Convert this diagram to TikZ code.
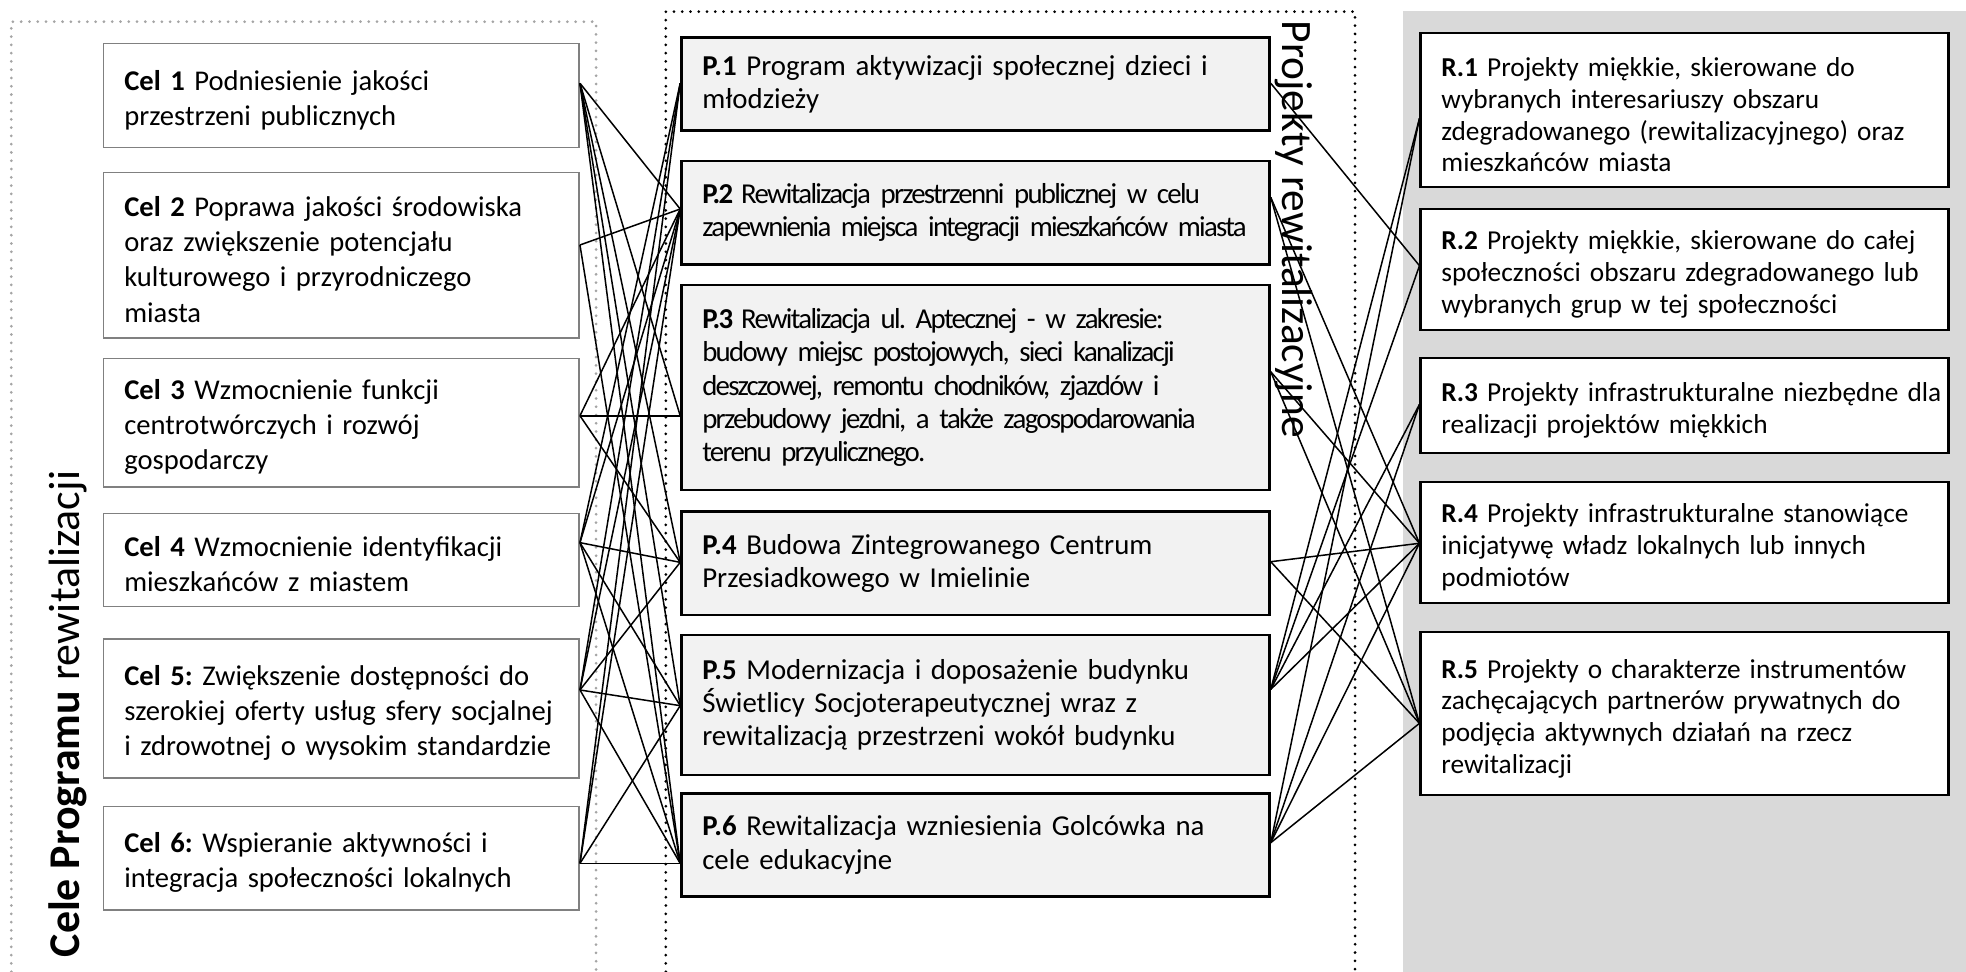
\documentclass[tikz,border=0pt]{standalone}
\usepackage{fontspec}
\setmainfont{Carlito}
\newfontfamily\condfont[LetterSpace=-6]{Carlito}
\usetikzlibrary{calc}
\definecolor{panelgray}{RGB}{217,217,217}
\definecolor{pfill}{RGB}{242,242,242}
\definecolor{celborder}{RGB}{128,128,128}
\definecolor{dotgray}{RGB}{165,165,165}
\newcommand\tln[1]{\mbox{#1}}
\newcommand\topgap{\rule{0pt}{11.5pt}}
\frenchspacing
\begin{document}
\begin{tikzpicture}[x=0.5pt,y=-0.5pt,
  base/.style={rectangle, inner xsep=8.3pt, inner ysep=0pt, align=left, anchor=center},
  celbox/.style={base, draw=celborder, line width=0.6pt, fill=white, text width=173.1pt, font=\fontsize{11.4}{14}\selectfont},
  pbox/.style={base, draw=black, line width=1pt, fill=pfill, text width=217.9pt, font=\fontsize{11.5}{13.3}\selectfont},
  rbox/.style={base, draw=black, line width=0.9pt, fill=white, text width=193.9pt, font=\fontsize{10.9}{12.65}\selectfont},
  link/.style={draw=black, line width=0.6pt},
  dotframe/.style={line width=1.2pt, dash pattern=on 0pt off 3.3pt, line cap=round},
  sidelabel/.style={inner sep=0pt}
]
\useasboundingbox (0,0) rectangle (1568,775);
\fill[panelgray] (1119,8.8) rectangle (1568,775);
\draw[dotframe, dotgray] (9,775) -- (9,17.3) -- (475.4,17.3) -- (475.4,775);
\draw[dotframe, black] (531,775) -- (531,9.3) -- (1080.7,9.3) -- (1080.7,775);

\node[sidelabel, rotate=90, font=\fontsize{17.5}{20}\selectfont] (celelabel) at (54.5,569.5) {\textbf{Cele Programu} rewitalizacji};
\node[sidelabel, rotate=-90, font=\fontsize{17.3}{20}\selectfont] (projlabel) at (1032,182.8) {Projekty rewitalizacyjne};

% Cele
\node[celbox, minimum height=41.65pt] (c1) at (272.25,76.15) {\topgap\tln{\textbf{Cel 1} Podniesienie jakości}\\\tln{przestrzeni publicznych}};
\node[celbox, minimum height=66pt] (c2) at (272.25,203.4) {\topgap\tln{\textbf{Cel 2} Poprawa jakości środowiska}\\\tln{oraz zwiększenie potencjału}\\\tln{kulturowego i przyrodniczego}\\\tln{miasta}};
\node[celbox, minimum height=51.4pt] (c3) at (272.25,337.2) {\topgap\tln{\textbf{Cel 3} Wzmocnienie funkcji}\\\tln{centrotwórczych i rozwój}\\\tln{gospodarczy}};
\node[celbox, minimum height=37.25pt] (c4) at (272.25,446.65) {\topgap\tln{\textbf{Cel 4} Wzmocnienie identyfikacji}\\\tln{mieszkańców z miastem}};
\node[celbox, minimum height=55.35pt] (c5) at (272.25,564.95) {\topgap\tln{\textbf{Cel 5:} Zwiększenie dostępności do}\\\tln{szerokiej oferty usług sfery socjalnej}\\\tln{i zdrowotnej o wysokim standardzie}};
\node[celbox, minimum height=41.2pt] (c6) at (272.25,684.6) {\topgap\tln{\textbf{Cel 6:} Wspieranie aktywności i}\\\tln{integracja społeczności lokalnych}};

% Projekty
\node[pbox, minimum height=37.05pt] (p1) at (778,67.15) {\tln{\textbf{P.1} Program aktywizacji społecznej dzieci i}\\\tln{młodzieży}};
\node[pbox, minimum height=41.2pt] (p2) at (778,169.6) {\condfont\tln{\textbf{P.2} Rewitalizacja przestrzenni publicznej w celu}\\\tln{zapewnienia miejsca integracji mieszkańców miasta}};
\node[pbox, minimum height=81.75pt] (p3) at (778,309.05) {\condfont\tln{\textbf{P.3} Rewitalizacja ul. Aptecznej - w zakresie:}\\\tln{budowy miejsc postojowych, sieci kanalizacji}\\\tln{deszczowej, remontu chodników, zjazdów i}\\\tln{przebudowy jezdni, a także zagospodarowania}\\\tln{terenu przyulicznego.}};
\node[pbox, minimum height=41.2pt] (p4) at (778,449.3) {\tln{\textbf{P.4} Budowa Zintegrowanego Centrum}\\\tln{Przesiadkowego w Imielinie}};
\node[pbox, minimum height=55.85pt] (p5) at (778,562.25) {\tln{\textbf{P.5} Modernizacja i doposażenie budynku}\\\tln{Świetlicy Socjoterapeutycznej wraz z}\\\tln{rewitalizacją przestrzeni wokół budynku}};
\node[pbox, minimum height=41.25pt] (p6) at (778,673.95) {\tln{\textbf{P.6} Rewitalizacja wzniesienia Golcówka na}\\\tln{cele edukacyjne}};

% Rodzaje
\node[rbox, minimum height=61.15pt] (r1) at (1343.5,87.75) {\topgap\tln{\textbf{R.1} Projekty miękkie, skierowane do}\\\tln{wybranych interesariuszy obszaru}\\\tln{zdegradowanego (rewitalizacyjnego) oraz}\\\tln{mieszkańców miasta}};
\node[rbox, minimum height=48.25pt] (r2) at (1343.5,214.95) {\topgap\tln{\textbf{R.2} Projekty miękkie, skierowane do całej}\\\tln{społeczności obszaru zdegradowanego lub}\\\tln{wybranych grup w tej społeczności}};
\node[rbox, minimum height=37.6pt] (r3) at (1343.5,323.4) {\topgap\tln{\textbf{R.3} Projekty infrastrukturalne niezbędne dla}\\\tln{realizacji projektów miękkich}};
\node[rbox, minimum height=48.25pt] (r4) at (1343.5,432.45) {\topgap\tln{\textbf{R.4} Projekty infrastrukturalne stanowiące}\\\tln{inicjatywę władz lokalnych lub innych}\\\tln{podmiotów}};
\node[rbox, minimum height=64.9pt] (r5) at (1343.5,569.2) {\topgap\makebox[193.9pt][s]{\textbf{R.5} Projekty o charakterze instrumentów}\\\makebox[193.9pt][s]{zachęcających partnerów prywatnych do}\\\makebox[193.9pt][s]{podjęcia aktywnych działań na rzecz}\\\tln{rewitalizacji}};

% connector end points
\coordinate (oc1) at (c1.east |- 0,66.4);
\coordinate (oc2) at (c2.east |- 0,195.4);
\coordinate (oc3) at (c3.east |- 0,331.6);
\coordinate (oc4) at (c4.east |- 0,432.8);
\coordinate (oc5) at (c5.east |- 0,550.3);
\coordinate (oc6) at (c6.east |- 0,688.6);
\coordinate (ip1) at (p1.west |- 0,66.4);
\coordinate (ip2) at (p2.west |- 0,166.7);
\coordinate (ip3) at (p3.west |- 0,331.6);
\coordinate (ip4) at (p4.west |- 0,448.5);
\coordinate (ip5) at (p5.west |- 0,562.8);
\coordinate (ip6) at (p6.west |- 0,688.6);
\coordinate (op1) at (p1.east |- 0,66.4);
\coordinate (op2) at (p2.east |- 0,157.4);
\coordinate (op3) at (p3.east |- 0,296.5);
\coordinate (op4) at (p4.east |- 0,448.0);
\coordinate (op5) at (p5.east |- 0,549.8);
\coordinate (op6) at (p6.east |- 0,672.1);
\coordinate (ir1) at (r1.west |- 0,94.4);
\coordinate (ir2) at (r2.west |- 0,211.9);
\coordinate (ir3) at (r3.west |- 0,322.5);
\coordinate (ir4) at (r4.west |- 0,433.3);
\coordinate (ir5) at (r5.west |- 0,576.9);

\foreach \a/\b in {c1/p2,c1/p3,c1/p4,c1/p5,c1/p6,c2/p2,c2/p6,c3/p2,c3/p3,c3/p4,
  c4/p1,c4/p2,c4/p4,c4/p5,c4/p6,c5/p1,c5/p2,c5/p4,c5/p5,c5/p6,c6/p1,c6/p2,c6/p5,c6/p6}
  \draw[link] (o\a) -- (i\b);
\foreach \a/\b in {p1/r2,p2/r4,p2/r5,p3/r4,p3/r5,p4/r4,p4/r5,p5/r1,p5/r2,p5/r3,p5/r4,
  p6/r1,p6/r3,p6/r4,p6/r5}
  \draw[link] (o\a) -- (i\b);
\end{tikzpicture}
\end{document}
